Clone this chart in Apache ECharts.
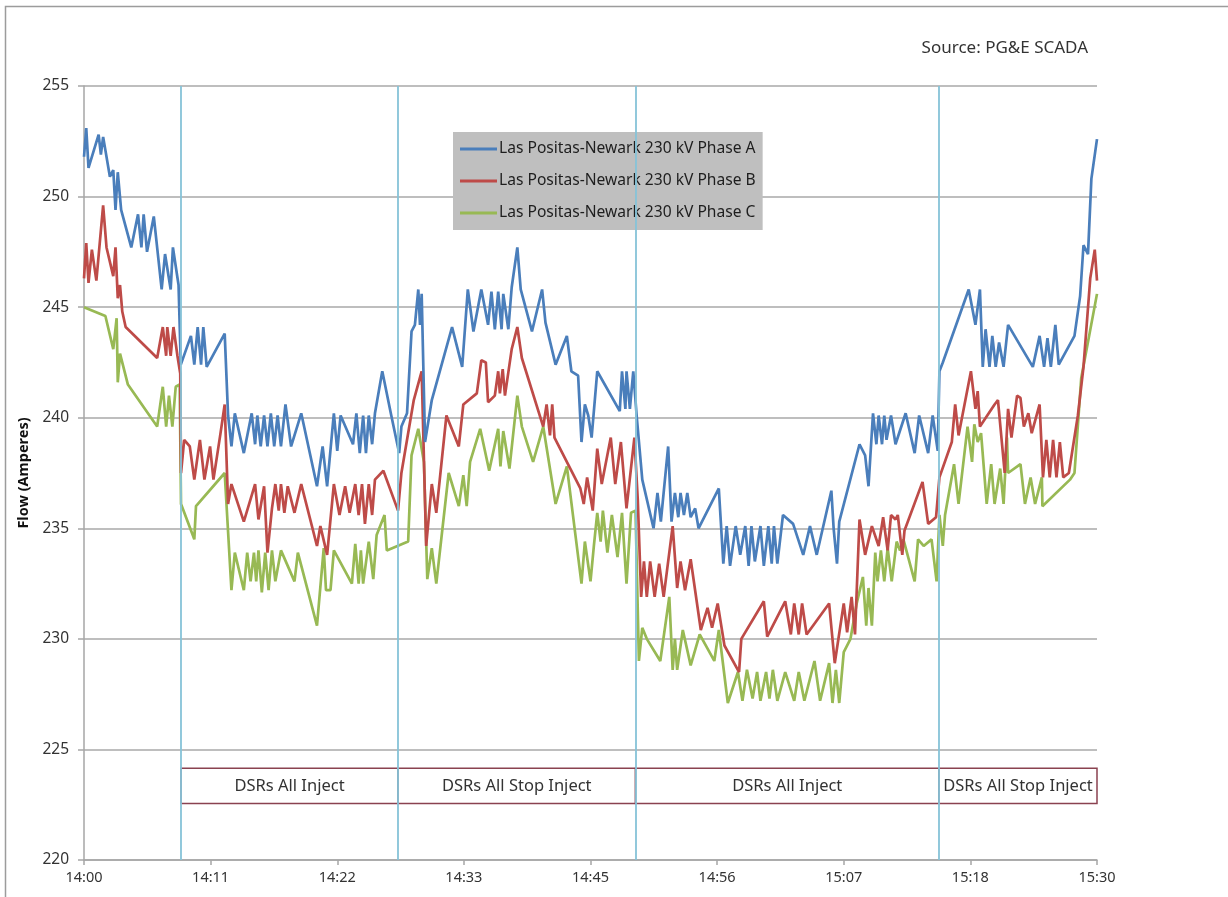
<!DOCTYPE html>
<html>
<head>
<meta charset="utf-8">
<script src="https://cdn.jsdelivr.net/npm/echarts@6/dist/echarts.min.js"></script>
<style>
html,body{margin:0;padding:0;background:#fff;}
#chart{width:1228px;height:897px;}
</style>
</head>
<body>
<div id="chart"></div>
<script>
// Minutes after 14:00 and flow (Amperes)
const phaseATime = [0,0.2,0.4,1.3,1.5,1.7,2.3,2.6,2.8,3.0,3.3,4.2,4.8,5.1,5.3,5.6,6.2,6.9,7.2,7.7,7.9,8.4,8.6,9.5,9.8,10.1,10.4,10.6,10.9,12.5,12.8,13.1,13.4,14.2,14.9,15.2,15.4,15.7,16.0,16.3,16.6,16.9,17.2,17.5,17.9,18.4,19.3,20.7,21.2,21.6,22.2,22.5,22.8,23.9,24.2,24.5,24.8,25.05,25.3,25.6,25.85,26.5,27.3,28.0,28.2,28.7,29.1,29.4,29.7,29.85,30.0,30.3,30.9,32.7,33.6,34.1,34.6,35.3,35.9,36.2,36.5,36.8,37.1,37.25,37.7,38.0,38.5,38.8,39.8,40.7,41.0,41.9,42.9,43.3,43.9,44.2,44.5,44.8,45.1,45.6,47.6,47.8,48.1,48.2,48.5,48.8,49.1,49.6,50.6,50.95,51.25,51.9,52.2,52.5,52.8,53.0,53.3,53.6,53.9,54.3,54.6,56.4,56.8,57.1,57.4,57.9,58.3,58.75,59.05,59.3,59.6,60.1,60.4,60.8,61.1,61.3,61.6,62.1,63.0,63.9,64.5,65.1,66.4,66.6,66.9,67.1,68.9,69.4,69.7,70.1,70.4,70.6,70.9,71.1,71.3,71.7,72.1,73.0,73.8,74.2,75.0,75.4,75.85,76.0,76.3,78.6,79.2,79.6,79.85,80.1,80.45,80.7,81.0,81.3,81.7,82.1,84.3,84.9,85.3,85.6,85.9,86.3,86.6,88.0,88.5,88.8,89.2,89.5,90.0];
const phaseAFlow = [251.8,253.1,251.3,252.8,251.9,252.7,250.9,251.2,249.4,251.1,249.4,247.7,249.2,247.7,249.2,247.5,249.1,245.8,247.4,245.8,247.7,246.0,242.4,243.7,242.4,244.1,242.4,244.1,242.3,243.8,240.1,238.7,240.2,238.4,240.2,238.8,240.1,238.7,240.1,238.7,240.2,238.7,240.1,238.7,240.6,238.7,240.2,236.9,238.7,236.9,240.2,238.5,240.1,238.8,240.2,238.4,240.1,238.4,240.1,238.8,240.2,242.1,240.1,238.4,239.6,240.2,243.9,244.2,245.8,244.2,245.6,238.9,240.8,244.1,242.3,245.8,243.9,245.8,244.2,245.7,244.0,245.7,244.0,245.6,244.0,245.9,247.7,245.8,243.9,245.8,244.3,242.4,243.7,242.1,241.9,238.9,240.6,240.1,239.1,242.1,240.3,242.1,240.4,242.1,240.4,242.1,240.1,237.2,235.0,236.6,235.3,238.7,235.3,236.6,235.5,236.6,235.6,236.6,235.5,235.9,235.0,236.8,233.4,235.1,233.3,235.1,233.8,235.1,233.3,235.1,233.5,235.1,233.3,235.1,233.4,235.1,233.4,235.6,235.2,233.8,235.1,233.8,236.7,235.0,233.4,235.3,238.8,238.3,236.9,240.2,238.8,240.1,238.8,240.1,239.0,240.1,238.8,240.2,238.4,240.1,238.4,240.1,238.5,242.1,242.5,245.8,244.2,245.8,242.3,244.0,242.3,243.7,242.3,243.4,242.3,244.2,242.3,243.7,242.3,243.6,242.3,244.2,242.4,243.7,245.5,247.8,247.4,250.8,252.6];

const phaseBTime = [0,0.2,0.4,0.7,1.1,1.7,2.0,2.6,2.8,3.0,3.2,3.4,3.7,6.5,7.0,7.3,7.4,7.7,7.95,8.3,8.55,8.62,8.9,9.4,9.8,10.3,10.7,11.2,11.5,12.1,12.5,12.8,13.1,14.2,15.2,15.5,16.0,16.3,16.7,17.0,17.3,17.5,17.8,18.1,18.7,19.3,20.7,21.0,21.6,22.2,22.7,23.2,23.6,24.1,24.4,24.7,24.96,25.3,25.6,25.85,26.6,27.9,28.2,29.3,30.0,30.4,30.9,31.3,32.2,33.3,33.7,34.9,35.3,35.7,35.9,36.5,36.8,36.95,37.2,37.4,38.0,38.5,38.9,40.8,41.1,41.4,41.6,41.8,44.1,44.4,44.7,45.2,45.6,46.0,46.8,47.2,47.7,48.2,48.9,49.2,49.5,49.75,50.0,50.3,50.7,51.1,51.5,52.3,52.7,53.0,53.4,53.9,54.8,55.4,55.8,56.3,56.9,58.2,58.4,60.4,60.7,62.3,62.8,63.1,63.5,63.8,64.2,66.2,66.7,67.5,67.8,68.2,68.5,68.9,69.4,70.0,70.6,71.0,71.4,71.7,72.1,72.3,72.7,72.9,74.5,75.0,75.7,76.0,77.1,77.4,77.7,78.8,79.2,79.4,79.6,80.9,81.2,81.8,82.1,82.4,82.9,83.2,83.5,83.9,84.2,84.9,85.2,85.5,85.8,86.1,86.4,86.7,87.0,87.5,88.3,88.8,89.4,89.8,90.0];
const phaseBFlow = [246.3,247.9,246.1,247.6,246.2,249.6,247.7,246.4,247.7,245.4,246.0,244.8,244.1,242.7,244.1,242.8,244.1,242.8,244.1,242.8,242.0,237.5,239.0,238.7,237.2,239.0,237.2,238.7,237.2,239.2,240.6,236.1,237.0,235.3,237.0,235.4,236.9,233.9,235.9,237.0,235.8,237.0,235.7,236.9,235.7,237.0,234.2,235.1,233.8,237.0,235.6,236.9,235.7,237.0,235.6,237.0,235.2,237.0,235.6,237.2,237.6,235.8,237.5,240.8,242.1,234.2,237.0,235.7,240.1,238.7,240.6,241.1,242.6,242.5,240.7,241.0,242.1,241.1,242.2,241.0,243.1,244.1,242.7,239.6,240.6,239.2,240.6,239.1,236.8,236.1,237.3,235.8,238.6,237.0,239.1,237.0,238.9,235.9,239.1,236.3,231.9,233.5,231.9,233.5,231.9,233.4,231.9,235.1,232.3,233.5,232.2,233.6,230.4,231.4,230.5,231.6,229.7,228.5,230.0,231.7,230.1,231.7,230.2,231.6,230.2,231.6,230.2,231.6,228.9,231.6,230.3,231.9,230.2,235.4,233.8,235.1,234.2,235.5,234.0,235.6,235.4,235.6,233.8,234.9,237.1,235.2,235.5,237.3,238.9,240.6,239.2,242.1,240.4,241.2,239.6,240.6,240.8,237.5,240.4,239.1,241.0,240.9,239.6,240.2,239.3,240.6,237.3,239.0,237.3,239.0,237.3,238.9,237.3,237.5,240.1,242.3,246.3,247.6,246.2];

const phaseCTime = [0,1.9,2.6,2.9,3.0,3.2,3.9,6.5,7.0,7.3,7.55,7.85,8.15,8.5,8.62,9.8,9.95,12.5,13.1,13.4,14.2,14.5,14.8,15.1,15.3,15.5,15.8,16.1,16.4,16.7,17.0,17.5,18.7,19.0,20.7,21.3,21.5,21.9,22.2,23.8,24.1,24.4,24.6,24.8,25.3,25.7,26.0,26.7,26.9,28.8,29.1,29.7,30.2,30.5,30.9,31.3,32.4,33.3,33.7,34.0,34.3,35.2,36.0,36.8,37.0,37.25,37.8,38.5,38.9,39.9,40.8,41.9,42.9,44.2,44.5,45.0,45.3,45.6,45.9,46.1,46.5,46.9,47.4,47.8,48.2,48.6,49.0,49.3,49.6,50.0,51.2,52.0,52.3,52.5,52.7,53.2,53.9,54.7,56.0,56.4,57.2,58.1,58.5,58.9,59.4,59.8,60.1,60.6,60.9,61.2,61.6,62.3,63.1,63.5,64.0,64.9,65.4,66.2,66.5,66.8,67.1,67.5,68.1,68.65,69.2,69.5,69.7,70.0,70.3,70.5,70.8,71.1,71.4,71.76,72.2,72.5,72.8,73.8,74.1,74.6,75.3,75.75,76.0,76.3,76.5,77.3,77.7,78.5,78.9,79.1,79.4,79.7,80.2,80.6,80.9,81.4,81.7,82.0,82.1,83.2,83.6,84.1,84.5,85.1,85.15,87.6,88.0,88.6,90.0];
const phaseCFlow = [245.0,244.6,243.1,244.5,241.6,242.9,241.5,239.6,241.4,239.6,241.0,239.6,241.4,241.5,236.1,234.5,236.0,237.5,232.2,233.9,232.2,233.9,232.6,233.9,232.6,234.0,232.1,233.9,232.2,234.0,232.6,234.0,232.6,233.9,230.6,234.1,232.2,232.2,234.0,232.5,234.3,232.5,234.0,232.5,234.4,232.7,234.7,235.6,234.0,234.4,238.3,239.5,238.0,232.7,234.1,232.5,237.5,236.0,237.4,236.0,238.0,239.5,237.6,239.5,237.8,239.4,237.7,241.0,239.6,238.0,239.6,236.1,237.8,232.5,234.4,232.6,234.2,235.7,234.4,235.8,233.9,235.6,233.7,235.7,232.5,235.7,235.8,229.0,230.5,230.0,229.0,231.9,228.6,230.0,228.6,230.4,228.8,230.2,229.0,230.4,227.1,228.5,227.2,228.6,227.3,228.5,227.2,228.5,227.3,228.6,227.2,228.5,227.2,228.5,227.2,229.0,227.2,228.9,227.1,228.6,227.1,229.4,230.0,231.6,232.8,230.6,232.3,230.6,233.9,232.6,234.0,232.6,234.1,232.6,234.4,234.0,234.5,232.6,234.5,234.2,234.5,232.6,235.6,234.2,235.6,237.9,236.1,239.6,238.0,239.7,238.9,239.3,236.1,237.9,236.1,237.7,236.1,239.1,237.5,237.9,236.1,237.3,236.1,237.3,236.0,237.2,237.5,241.8,245.6];

const seriesNames = ['Las Positas-Newark 230 kV Phase A','Las Positas-Newark 230 kV Phase B','Las Positas-Newark 230 kV Phase C'];
const seriesColors = ['#4a7ebb','#be4b48','#98b954'];
const xTickLabels = ['14:00','14:11','14:22','14:33','14:45','14:56','15:07','15:18','15:30'];
const eventTimes = [8.62, 27.9, 49.0, 75.96];
const eventEnd = 90;
const eventLabels = ['DSRs All Inject','DSRs All Stop Inject','DSRs All Inject','DSRs All Stop Inject'];
const boxBottom = 222.55, boxTop = 224.15;

const pair = (t, v) => t.map((x, i) => [x, v[i]]);
const FONT = '"Noto Sans", "Open Sans", sans-serif';

const chart = echarts.init(document.getElementById('chart'), null, {renderer: 'canvas'});

const areas = eventTimes.map((t, i) => [
  {xAxis: t, yAxis: boxBottom, name: eventLabels[i]},
  {xAxis: i + 1 < eventTimes.length ? eventTimes[i + 1] : eventEnd, yAxis: boxTop}
]);

const option = {
  backgroundColor: '#fff',
  animation: false,
  title: {
    text: 'Source: PG&E SCADA',
    right: 135, top: 35,
    textStyle: {fontFamily: FONT, fontSize: 17, fontWeight: 'normal', color: '#333'}
  },
  legend: {
    orient: 'vertical',
    left: 453, top: 132,
    backgroundColor: '#bfbfbf',
    padding: [7, 7, 7, 7],
    itemGap: 12,
    itemWidth: 37, itemHeight: 3,
    icon: 'rect',
    textStyle: {fontFamily: FONT, fontSize: 15.6, color: '#1e1e1e', lineHeight: 20, padding: [0, 0, 0, -3]},
    data: seriesNames
  },
  grid: {left: 84, right: 131, top: 86, bottom: 37, containLabel: false},
  xAxis: {
    type: 'value', min: 0, max: 90, interval: 11.25,
    axisLine: {show: true, lineStyle: {color: '#a6a6a6', width: 1.5}},
    axisTick: {show: true, length: 5, inside: false, lineStyle: {color: '#a6a6a6', width: 1.5}},
    splitLine: {show: false},
    axisLabel: {
      margin: 10, fontFamily: FONT, fontSize: 14.5, color: '#333',
      formatter: v => xTickLabels[Math.round(v / 11.25)] || ''
    }
  },
  yAxis: {
    type: 'value', min: 220, max: 255, interval: 5,
    name: 'Flow (Amperes)', nameLocation: 'middle', nameGap: 51,
    nameTextStyle: {fontFamily: FONT, fontSize: 14.5, fontWeight: 'bold', color: '#111'},
    axisLine: {show: true, lineStyle: {color: '#a6a6a6', width: 1.5}},
    axisTick: {show: true, length: 6, lineStyle: {color: '#a6a6a6', width: 1.5}},
    splitLine: {show: true, lineStyle: {color: '#a9a9a9', width: 1.5}},
    axisLabel: {margin: 15, fontFamily: FONT, fontSize: 15.5, color: '#333'}
  },
  graphic: [{
    type: 'rect', silent: true, z: -1,
    shape: {x: 5.5, y: 6.5, width: 1400, height: 1000},
    style: {fill: 'none', stroke: '#9c9c9c', lineWidth: 1.5}
  }],
  series: [
    {
      name: seriesNames[0], type: 'line', symbol: 'none', z: 4,
      data: pair(phaseATime, phaseAFlow),
      lineStyle: {width: 2.7, color: seriesColors[0]}, itemStyle: {color: seriesColors[0]},
      markLine: {
        silent: true, symbol: 'none', label: {show: false},
        lineStyle: {color: '#86c3d8', width: 1.8, type: 'solid'},
        data: eventTimes.map(t => ({xAxis: t}))
      },
      markArea: {
        silent: true,
        itemStyle: {color: '#ffffff', borderColor: '#8a4250', borderWidth: 1.5},
        label: {show: true, position: 'inside', fontFamily: FONT, fontSize: 16.5, color: '#333'},
        data: areas
      }
    },
    {
      name: seriesNames[1], type: 'line', symbol: 'none', z: 3,
      data: pair(phaseBTime, phaseBFlow),
      lineStyle: {width: 2.7, color: seriesColors[1]}, itemStyle: {color: seriesColors[1]}
    },
    {
      name: seriesNames[2], type: 'line', symbol: 'none', z: 2,
      data: pair(phaseCTime, phaseCFlow),
      lineStyle: {width: 2.7, color: seriesColors[2]}, itemStyle: {color: seriesColors[2]}
    }
  ]
};
chart.setOption(option);
</script>
</body>
</html>
